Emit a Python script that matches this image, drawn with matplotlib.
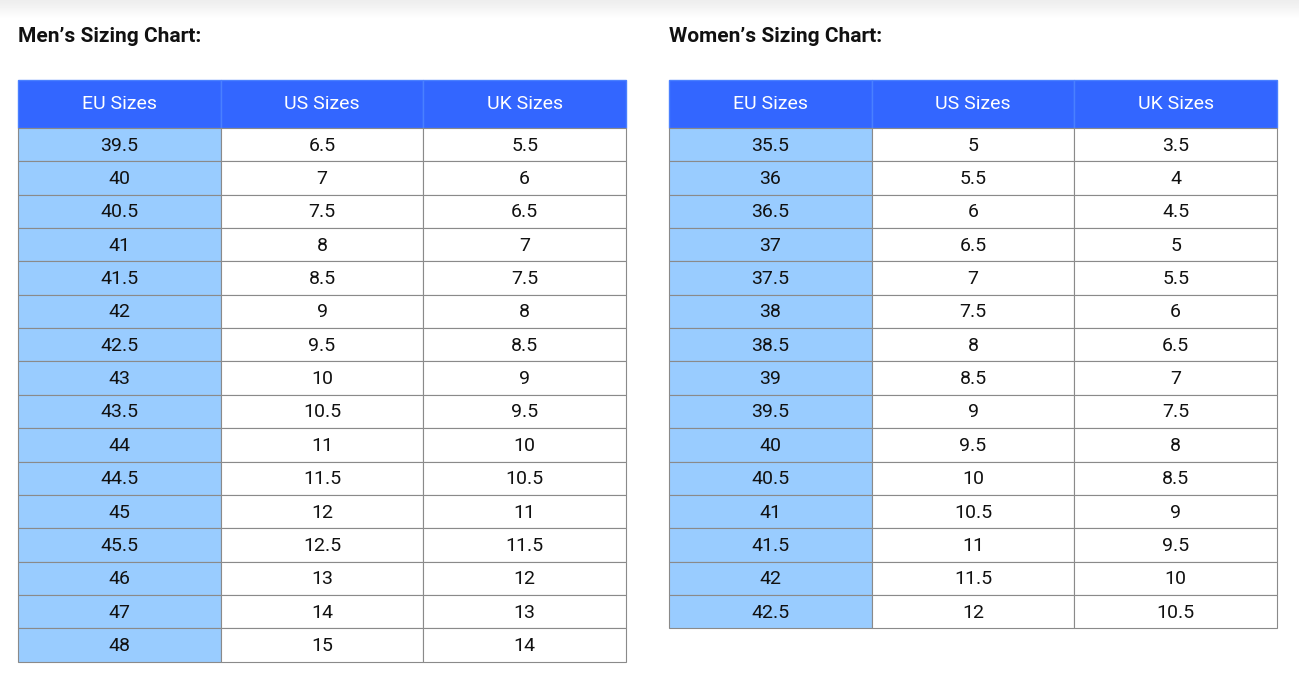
import matplotlib
matplotlib.use("Agg")
import matplotlib.pyplot as plt
from matplotlib.patches import Rectangle
import numpy as np

# ---- data ----
headers = ["EU Sizes", "US Sizes", "UK Sizes"]
men_eu = ["39.5", "40", "40.5", "41", "41.5", "42", "42.5", "43", "43.5", "44",
          "44.5", "45", "45.5", "46", "47", "48"]
men_us = ["6.5", "7", "7.5", "8", "8.5", "9", "9.5", "10", "10.5", "11",
          "11.5", "12", "12.5", "13", "14", "15"]
men_uk = ["5.5", "6", "6.5", "7", "7.5", "8", "8.5", "9", "9.5", "10",
          "10.5", "11", "11.5", "12", "13", "14"]
women_eu = ["35.5", "36", "36.5", "37", "37.5", "38", "38.5", "39", "39.5", "40",
            "40.5", "41", "41.5", "42", "42.5"]
women_us = ["5", "5.5", "6", "6.5", "7", "7.5", "8", "8.5", "9", "9.5",
            "10", "10.5", "11", "11.5", "12"]
women_uk = ["3.5", "4", "4.5", "5", "5.5", "6", "6.5", "7", "7.5", "8",
            "8.5", "9", "9.5", "10", "10.5"]

HEADER_BLUE = "#3366ff"
LIGHT_BLUE = "#99ccff"
GRID = "#8a8a8a"
FONT = "Roboto"

W, H = 1299, 681
fig = plt.figure(figsize=(W / 100, H / 100), dpi=100)
ax = fig.add_axes([0, 0, 1, 1])
ax.set_xlim(0, W)
ax.set_ylim(H, 0)
ax.axis("off")

# faint shadow at the top
grad = np.linspace(0.93, 1.0, 20).reshape(-1, 1)
ax.imshow(grad, cmap="gray", vmin=0, vmax=1, extent=[0, W, 20, 0], aspect="auto", zorder=0)


def draw_table(x0, title, cols):
    col_w = 202.7
    top, head_h, row_h = 80, 48, 33.35
    ax.text(x0, 36, title, fontsize=15, fontweight="bold", family=FONT,
            color="#111111", va="center", ha="left")
    n = len(cols[0])
    for j, h in enumerate(headers):
        cx = x0 + j * col_w
        ax.add_patch(Rectangle((cx, top), col_w, head_h, facecolor=HEADER_BLUE,
                               edgecolor="#4a80ff", lw=1, zorder=2))
        ax.text(cx + col_w / 2, top + head_h / 2, h, color="white", fontsize=14,
                family=FONT, ha="center", va="center", zorder=3)
    for i in range(n):
        y = top + head_h + i * row_h
        for j, col in enumerate(cols):
            cx = x0 + j * col_w
            fc = LIGHT_BLUE if j == 0 else "white"
            ax.add_patch(Rectangle((cx, y), col_w, row_h, facecolor=fc,
                                   edgecolor=GRID, lw=0.8, zorder=2))
            ax.text(cx + col_w / 2, y + row_h / 2 + 1, col[i], color="#111111",
                    fontsize=14, family=FONT, ha="center", va="center", zorder=3)


draw_table(18, "Men\u2019s Sizing Chart:", [men_eu, men_us, men_uk])
draw_table(669, "Women\u2019s Sizing Chart:", [women_eu, women_us, women_uk])

fig.savefig("out.png", dpi=100, facecolor="white")
